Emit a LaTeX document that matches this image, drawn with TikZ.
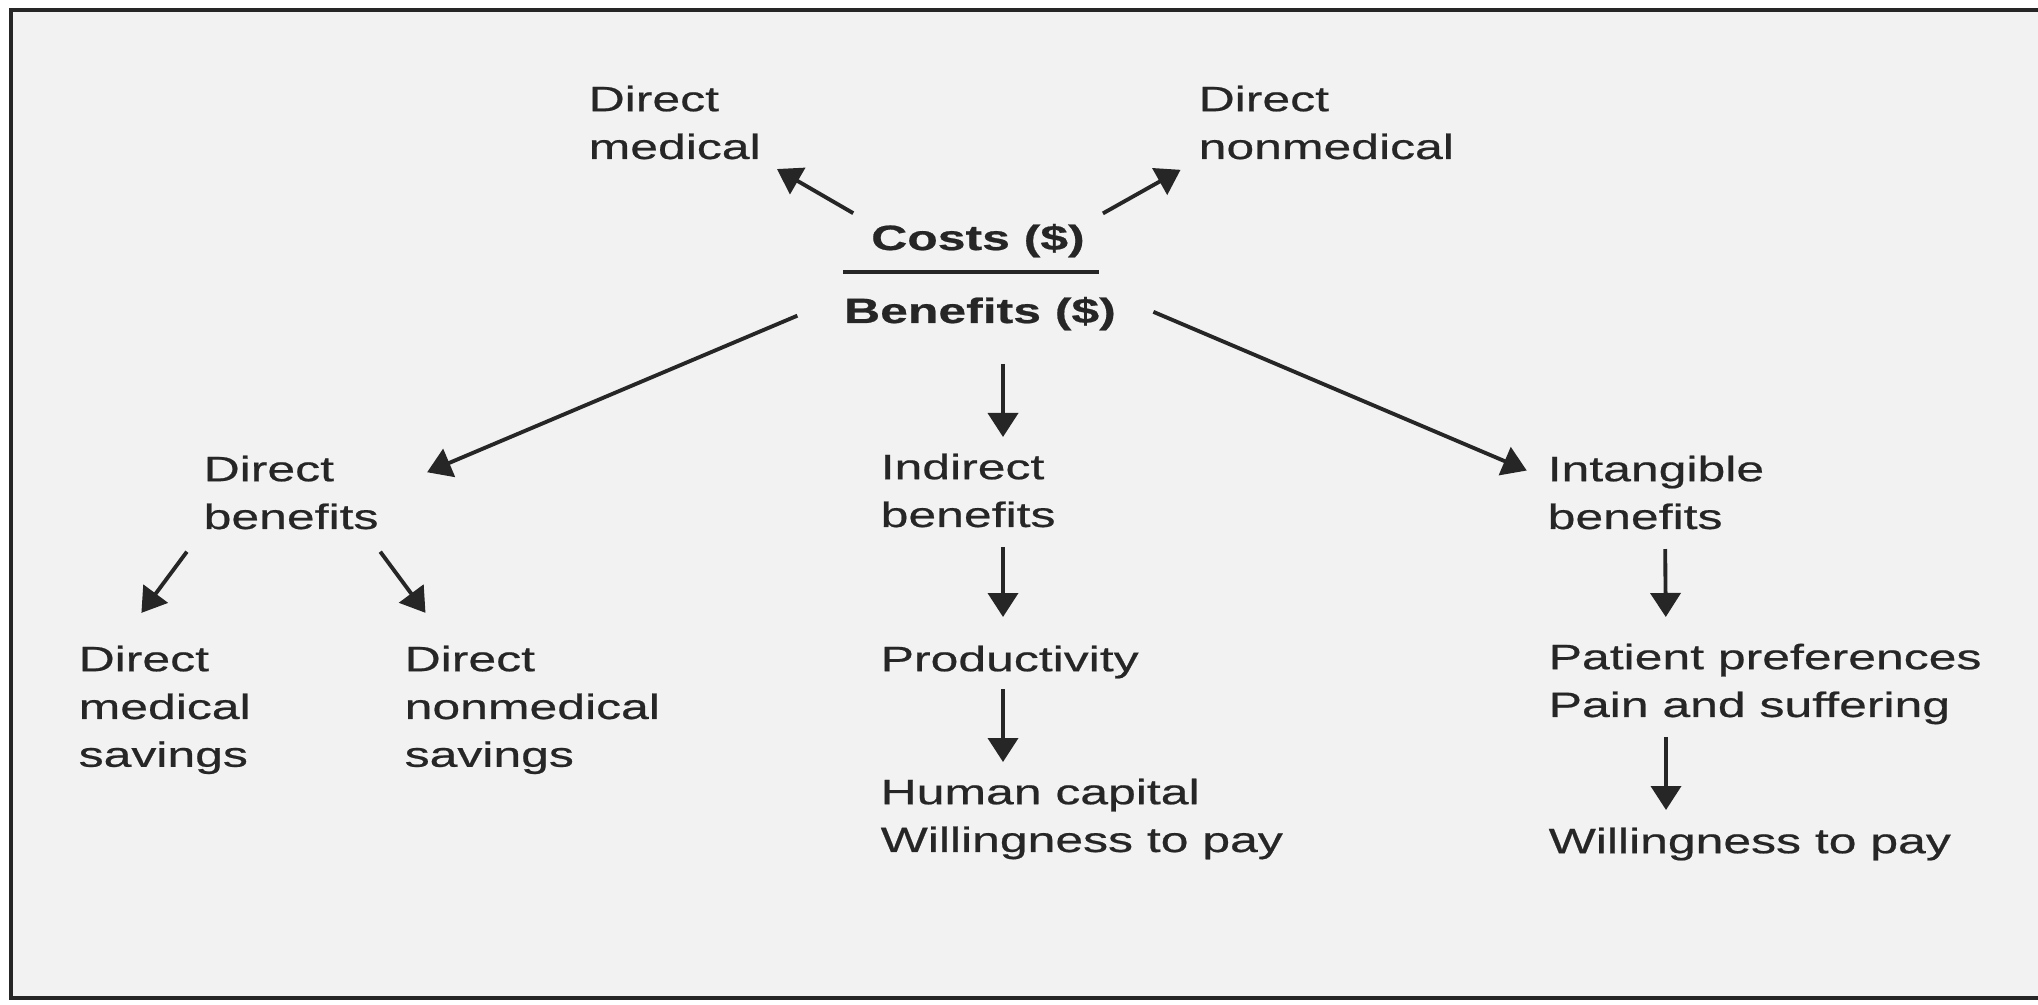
\documentclass[tikz,border=0pt]{standalone}
\usepackage{fontspec}
\setmainfont{Liberation Sans}[FakeStretch=1.42, FakeBold=0.6]
\usetikzlibrary{arrows.meta}

\tikzset{
  lbl/.style={anchor=north west, align=left, inner sep=0pt, text=black!85,
    font=\fontsize{10}{13.6}\selectfont},
  hdr/.style={anchor=base, inner sep=0pt, text=black!85,
    font=\fontsize{10}{13.6}\selectfont\bfseries},
  arr/.style={-{Triangle[length=2.4mm,width=3mm]}, line width=1.1pt, draw=black!85},
}

\begin{document}
\begin{tikzpicture}

  \useasboundingbox (0,0) rectangle (20.38,-10.05);
  \fill[black!5] (0.12,-0.11) rectangle (20.38,-9.98);
  \draw[line width=1.3pt, black!85] (20.38,-0.10) -- (0.11,-0.10) -- (0.11,-9.98) -- (20.38,-9.98);

  % Define nodes
  \node[hdr] (costs) at (9.78,-2.50) {Costs (\$)};
  \node[hdr] (ben)   at (9.80,-3.23) {Benefits (\$)};
  \node[lbl] (dmed)  at (5.88,-0.85) {Direct\\medical};
  \node[lbl] (dnon)  at (11.98,-0.85) {Direct\\nonmedical};

  \node[lbl] (dben)  at (2.03,-4.55) {Direct\\benefits};
  \node[lbl] (ind)   at (8.80,-4.53) {Indirect\\benefits};
  \node[lbl] (intg)  at (15.47,-4.55) {Intangible\\benefits};

  \node[lbl] (dms)   at (0.78,-6.45) {Direct\\medical\\savings};
  \node[lbl] (dnms)  at (4.04,-6.45) {Direct\\nonmedical\\savings};
  \node[lbl] (prod)  at (8.80,-6.45) {Productivity};
  \node[lbl] (human) at (8.80,-7.78) {Human capital\\Willingness to pay};
  \node[lbl] (pat)   at (15.48,-6.43) {Patient preferences\\Pain and suffering};
  \node[lbl] (wtp)   at (15.48,-8.27) {Willingness to pay};

  % Fraction bar
  \draw[line width=1.1pt, black!85] ([yshift=2.4mm]ben.north west) -- ([xshift=-1.8mm,yshift=2.4mm]ben.north east);

  % Connect the nodes
  \draw[arr, shorten <=2mm, shorten >=1.8mm] (costs.north west) -- (dmed.south east);
  \draw[arr, shorten <=2mm, shorten >=2mm] (costs.north east) -- (dnon.south west);
  \draw[arr, shorten <=5mm, shorten >=5.2mm] (ben.north west) -- (dben.east);
  \draw[arr, shorten <=4mm, shorten >=2.2mm] (ben.north east) -- (intg.173);
  \draw[arr, shorten <=3.3mm, shorten >=1.6mm] ([xshift=2.3mm]ben.south) -- ([xshift=2.3mm]ben.south |- ind.north);

  \draw[arr, shorten <=2.7mm, shorten >=4mm] (dben.south west) -- (dms.126);
  \draw[arr, shorten <=2.7mm, shorten >=4mm] ([xshift=-1.5mm]dben.south east) -- (dnms.142);

  \draw[arr, shorten <=1.9mm, shorten >=2.8mm] ([xshift=12.3mm]ind.south west) -- ([xshift=12.3mm]prod.north west);
  \draw[arr, shorten <=1mm, shorten >=1.6mm] ([xshift=12.3mm]prod.south west) -- ([xshift=12.3mm]human.north west);

  \draw[arr, shorten <=1.9mm, shorten >=2.6mm] ([xshift=11.8mm]intg.south west) -- ([xshift=11.8mm]pat.north west);
  \draw[arr, shorten <=1.2mm, shorten >=1.7mm] ([xshift=11.8mm]pat.south west) -- ([xshift=11.8mm]wtp.north west);

\end{tikzpicture}
\end{document}
